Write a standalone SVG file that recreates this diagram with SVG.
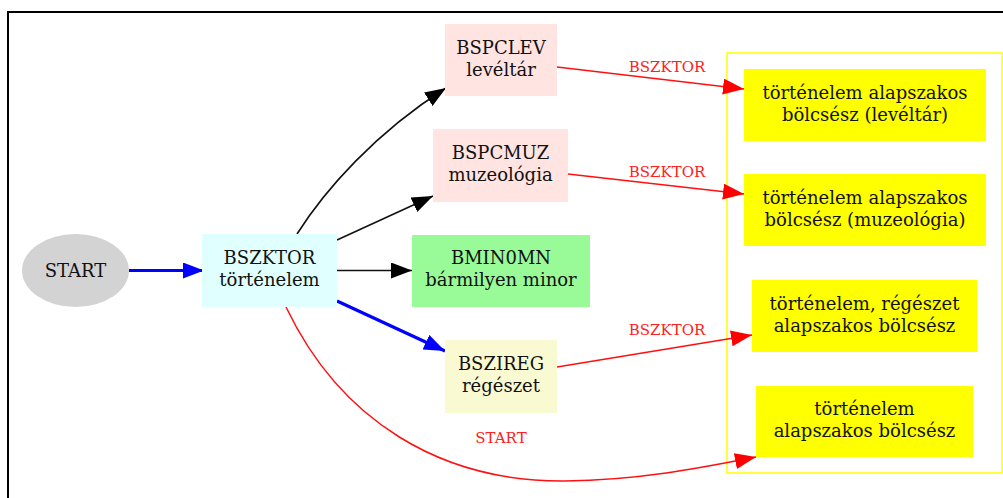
<svg xmlns="http://www.w3.org/2000/svg" width="1003" height="498" viewBox="0 0 1003 498">
<style>
text{font-family:"DejaVu Serif","Liberation Serif",serif;fill:#111;text-anchor:middle}
.n{font-size:18px}
.lbl{font-size:15px;fill:#ff2020}
.e{fill:none;stroke-width:1.6}
.blk{stroke:#111}
.red{stroke:#ff1010;stroke-width:1.5}
.blu{stroke:#0000ff;stroke-width:3.2}
</style>
<defs>
<marker id="ak" markerUnits="userSpaceOnUse" markerWidth="24" markerHeight="18" refX="21" refY="8" orient="auto"><path d="M0,0 L21,8 L0,16 Z" fill="#000"/></marker>
<marker id="ar" markerUnits="userSpaceOnUse" markerWidth="24" markerHeight="18" refX="21" refY="8" orient="auto"><path d="M0,0 L21,8 L0,16 Z" fill="#ff0000"/></marker>
<marker id="ab" markerUnits="userSpaceOnUse" markerWidth="24" markerHeight="18" refX="21" refY="8" orient="auto"><path d="M0,0 L21,8 L0,16 Z" fill="#0000ff"/></marker>
</defs>
<rect width="1003" height="498" fill="#fff"/>
<path d="M8,498 L8,12 L1003,12" fill="none" stroke="#000" stroke-width="2"/>
<g id="cluster"><rect x="727" y="53" width="275" height="420" fill="none" stroke="#ffff00" stroke-width="1.5"/></g>
<g id="connectors">
<path class="e blu" d="M129,270.5 L204,270.5" marker-end="url(#ab)"/>
<path class="e blk" d="M297,234 C325,190 375,133 446,88" marker-end="url(#ak)"/>
<path class="e blk" d="M337,240 L433,196" marker-end="url(#ak)"/>
<path class="e blk" d="M337,270.5 L412,270.5" marker-end="url(#ak)"/>
<path class="e blu" d="M337,301 L445,351" marker-end="url(#ab)"/>
<path class="e red" d="M286,307 C340,420 440,482 565,481 C640,480 700,468 756,457" marker-end="url(#ar)"/>
<path class="e red" d="M557,67 L744,89" marker-end="url(#ar)"/>
<path class="e red" d="M568,174 L744,194" marker-end="url(#ar)"/>
<path class="e red" d="M557,367 L752,335" marker-end="url(#ar)"/>
<text class="lbl" x="667" y="72">BSZKTOR</text>
<text class="lbl" x="667" y="177">BSZKTOR</text>
<text class="lbl" x="667" y="335">BSZKTOR</text>
<text class="lbl" x="501" y="443">START</text>
</g>
<g id="START"><ellipse cx="75.5" cy="270.5" rx="53.5" ry="36.5" fill="#d3d3d3"/><text class="n" x="75.5" y="276.5">START</text></g>
<g id="BSZKTOR"><rect x="202" y="234" width="135" height="73" fill="#e0ffff"/><text class="n" x="269.5" y="264">BSZKTOR</text><text class="n" x="269.5" y="286">történelem</text></g>
<g id="BSPCLEV"><rect x="445" y="24" width="112" height="72" fill="#ffe4e1"/><text class="n" x="501" y="53.5">BSPCLEV</text><text class="n" x="501" y="75.5">levéltár</text></g>
<g id="BSPCMUZ"><rect x="433" y="129" width="135" height="73" fill="#ffe4e1"/><text class="n" x="500.5" y="159">BSPCMUZ</text><text class="n" x="500.5" y="181">muzeológia</text></g>
<g id="BMIN0MN"><rect x="412" y="235" width="178" height="72" fill="#98fb98"/><text class="n" x="501" y="264">BMIN0MN</text><text class="n" x="501" y="286">bármilyen minor</text></g>
<g id="BSZIREG"><rect x="445" y="340" width="112" height="73" fill="#fafad2"/><text class="n" x="501" y="370">BSZIREG</text><text class="n" x="501" y="392">régészet</text></g>
<g id="T1"><rect x="744" y="69" width="242" height="72" fill="#ffff00"/><text class="n" x="865" y="98.5">történelem alapszakos</text><text class="n" x="865" y="120.5">bölcsész (levéltár)</text></g>
<g id="T2"><rect x="744" y="174" width="242" height="72" fill="#ffff00"/><text class="n" x="865" y="203.5">történelem alapszakos</text><text class="n" x="865" y="225.5">bölcsész (muzeológia)</text></g>
<g id="T3"><rect x="752" y="280" width="225" height="72" fill="#ffff00"/><text class="n" x="864.5" y="309.5">történelem, régészet</text><text class="n" x="864.5" y="331.5">alapszakos bölcsész</text></g>
<g id="T4"><rect x="756" y="386" width="217" height="71" fill="#ffff00"/><text class="n" x="864.5" y="415">történelem</text><text class="n" x="864.5" y="437">alapszakos bölcsész</text></g>
</svg>
